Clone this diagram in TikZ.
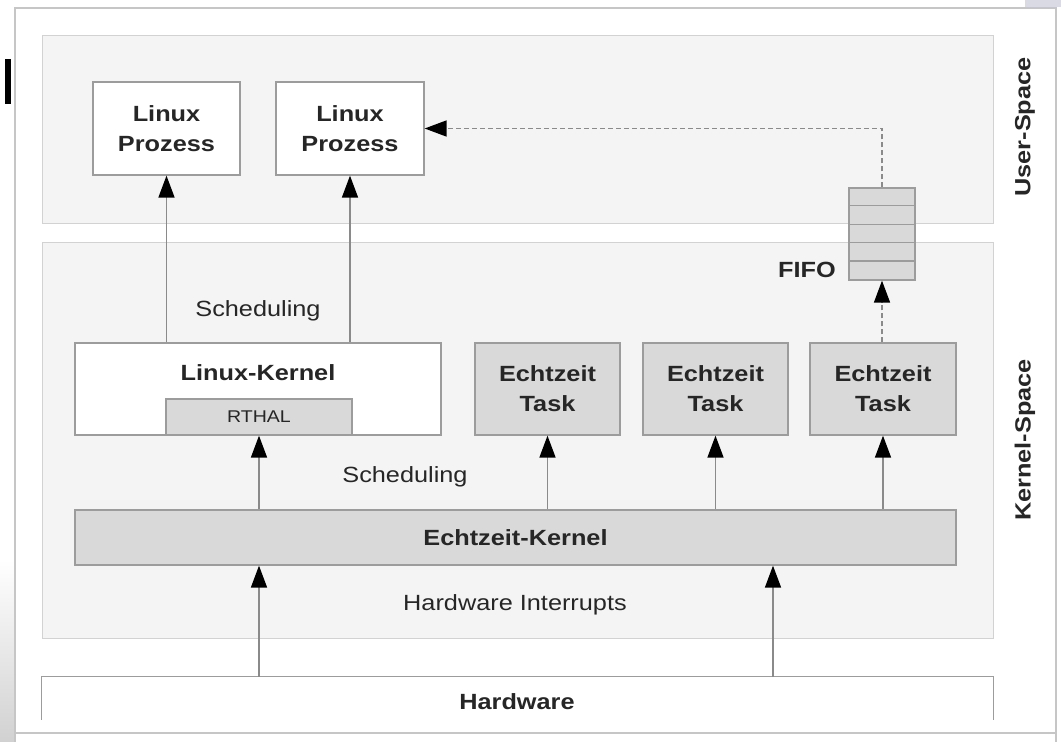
\documentclass[tikz,border=0pt]{standalone}
\usepackage{fontspec}
\setmainfont{Liberation Sans}[FakeStretch=1.15]
\usepackage{tikz}
\usetikzlibrary{arrows.meta}

\definecolor{panel}{HTML}{F4F4F4}
\definecolor{panelline}{HTML}{D2D2D2}
\definecolor{boxline}{HTML}{9C9C9C}
\definecolor{boxgray}{HTML}{D9D9D9}
\definecolor{ink}{HTML}{262626}
\definecolor{arrowline}{HTML}{8A8A8A}

\tikzset{
  box/.style={draw=boxline, line width=1.3pt, fill=white, inner sep=0pt, text=ink,
    font=\bfseries\fontsize{22}{30}\selectfont, align=center},
  graybox/.style={box, fill=boxgray},
  lbl/.style={text=ink, font=\fontsize{22}{26}\selectfont, inner sep=0pt},
  boldlbl/.style={lbl, font=\bfseries\fontsize{22}{26}\selectfont},
  up/.style={draw=arrowline, line width=1.6pt, -{Triangle[length=22pt,width=16pt,color=black]}},
  fifoarrow/.style={up, dash pattern=on 5pt off 3pt},
}

\begin{document}
\begin{tikzpicture}[x=1pt, y=-1pt]
\useasboundingbox (0,0) rectangle (1061,742);
% screenshot frame
\fill[white] (0,0) rectangle (1061,742);
\shade[top color=white, bottom color=black!18] (0,560) rectangle (15,742);
\fill[blue!15!gray!25] (1025,0) rectangle (1061,7);
\draw[gray!45, line width=1.5pt] (15,742) -- (15,8) -- (1056,8) -- (1056,742);
\draw[gray!45, line width=1.5pt] (15,733) -- (1056,733);
\fill[black] (5,59) rectangle (11,104);

% panels
\draw[panelline, fill=panel, line width=1pt] (42,35) rectangle (993,223);
\draw[panelline, fill=panel, line width=1pt] (42,242) rectangle (993,638);

% user space
\node[box, minimum width=147, minimum height=93] (prozA) at (166.5,128.5) {Linux\\Prozess};
\node[box, minimum width=148, minimum height=93] (prozB) at (350,128.5) {Linux\\Prozess};

% kernel space
\node[box, minimum width=366, minimum height=92] (lkernel) at (258,389) {};
\node[boldlbl] (lktxt) at (258,373) {Linux-Kernel};
\node[graybox, minimum width=186, minimum height=36, font=\fontsize{17}{20}\selectfont] (rthal) at (259,417) {RTHAL};
\node[graybox, minimum width=145, minimum height=92] (taskA) at (547.5,389) {Echtzeit\\Task};
\node[graybox, minimum width=145, minimum height=92] (taskB) at (715.5,389) {Echtzeit\\Task};
\node[graybox, minimum width=146, minimum height=92] (taskC) at (883,389) {Echtzeit\\Task};
\node[graybox, minimum width=881, minimum height=55] (ekernel) at (515.5,537.5) {Echtzeit-Kernel};

\node[graybox, minimum width=66, minimum height=92] (fifo) at (882,234) {};
\foreach \k in {1,...,4}
  \draw[boxline, line width=1.3pt] (fifo.north west) ++(0,18.4*\k) -- ++(66,0);
\node[boldlbl, anchor=east] (fifolbl) at (836,270) {FIFO};

% hardware
\node[minimum width=951, minimum height=43, inner sep=0pt] (hw) at (517.5,698.5) {};
\draw[boxline, line width=1.3pt] (hw.south west) -- (hw.north west) -- (hw.north east) -- (hw.south east);
\node[boldlbl] (hwlbl) at (517,702) {Hardware};
\coordinate (irq) at (773,677);

% labels
\node[lbl] (schedA) at (258,311) {Scheduling};
\node[lbl] (schedB) at (405,477) {Scheduling};
\node[lbl] (irqlbl) at (515,605) {Hardware Interrupts};
\node[boldlbl, rotate=90] (userlbl) at (1025,127) {User-Space};
\node[boldlbl, rotate=90] (kernlbl) at (1025,440) {Kernel-Space};

% arrows
\draw[up] (lkernel.north -| prozA.south) -- (prozA.south);
\draw[up] (lkernel.north -| prozB.south) -- (prozB.south);
\draw[up] (ekernel.north -| rthal.south) -- (rthal.south);
\draw[up] (ekernel.north -| taskA.south) -- (taskA.south);
\draw[up] (ekernel.north -| taskB.south) -- (taskB.south);
\draw[up] (ekernel.north -| taskC.south) -- (taskC.south);
\draw[up] (hw.north -| rthal.south) -- (ekernel.south -| rthal.south);
\draw[up] (irq) -- (irq |- ekernel.south);
\draw[fifoarrow] (taskC.north -| fifo.south) -- (fifo.south);
\draw[fifoarrow] (fifo.north) |- (prozB.east);
\end{tikzpicture}
\end{document}
